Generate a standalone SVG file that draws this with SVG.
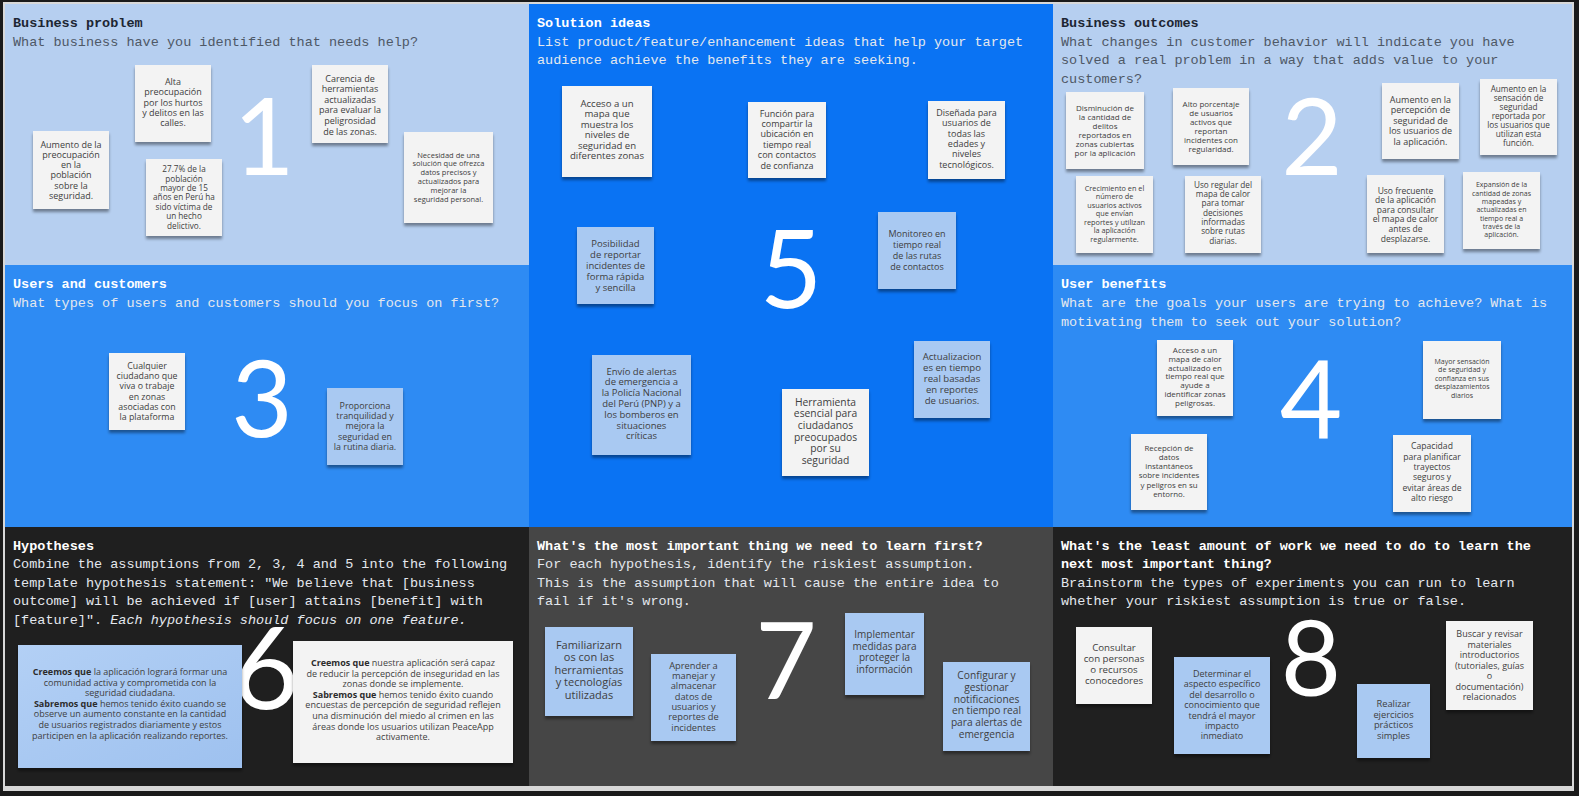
<svg xmlns="http://www.w3.org/2000/svg" width="1579" height="796" viewBox="0 0 1579 796">
<style>
.hd{font-family:"Liberation Mono","DejaVu Sans Mono",monospace;font-size:13.5px}
.hb{font-weight:bold}
.dk{fill:#1d2633}
.dg{fill:#4e5866}
.wt{fill:#ffffff}
.lg{fill:#e4e8ee}
.num{font-family:Lato,"Open Sans",sans-serif;font-weight:400;fill:#ffffff;text-anchor:middle}
.sw{fill:#f3f3f3;filter:url(#sh)}
.sb{fill:#a9c9f2;filter:url(#sh)}
.tx{font-family:"Open Sans","Noto Sans",sans-serif;fill:#3e3e3e;text-anchor:middle}
.bd{font-weight:bold;fill:#2c2c2c}
</style>
<defs>
<filter id="sh" x="-20%" y="-20%" width="140%" height="150%">
<feDropShadow dx="0" dy="3" stdDeviation="1.8" flood-color="#000" flood-opacity="0.4"/>
</filter>
<linearGradient id="gb" x1="0" y1="0" x2="1" y2="1">
<stop offset="0" stop-color="#b3d0f5"/><stop offset="1" stop-color="#9ec1ef"/>
</linearGradient>
</defs>
<rect width="1579" height="796" fill="#1a1a1a"/>
<rect x="3" y="2" width="1571" height="789" fill="#d8d8d8"/>
<!-- panels -->
<g id="panel-1"><rect x="5" y="4" width="524" height="261" fill="#b6cff0"/></g>
<g id="panel-5"><rect x="529" y="4" width="524" height="523" fill="#0a73f3"/></g>
<g id="panel-2"><rect x="1053" y="4" width="519" height="261" fill="#b6cff0"/></g>
<g id="panel-3"><rect x="5" y="265" width="524" height="262" fill="#2e8bf3"/></g>
<g id="panel-4"><rect x="1053" y="265" width="519" height="262" fill="#2e8bf3"/></g>
<g id="panel-6"><rect x="5" y="527" width="524" height="259" fill="#1f1f1f"/></g>
<g id="panel-7"><rect x="529" y="527" width="524" height="259" fill="#464646"/></g>
<g id="panel-8"><rect x="1053" y="527" width="519" height="259" fill="#202020"/></g>

<!-- big numbers -->
<g id="numbers" class="num">
<text x="264" y="175" font-size="106">1</text>
<text x="1312" y="175" font-size="106">2</text>
<text x="262" y="437" font-size="106">3</text>
<text x="1311" y="439" font-size="108">4</text>
<text x="791" y="308" font-size="108">5</text>
<text x="266" y="709" font-size="114">6</text>
<text x="786" y="699" font-size="106">7</text>
<text x="1311" y="696" font-size="104">8</text>
</g>

<!-- headers -->
<g id="hdr-1" class="hd">
<text x="13" y="26.5" class="hb dk">Business problem</text>
<text x="13" y="45.5" class="dg">What business have you identified that needs help?</text>
</g>
<g id="hdr-5" class="hd">
<text x="537" y="26.5" class="hb wt">Solution ideas</text>
<text x="537" y="45.5" class="lg">List product/feature/enhancement ideas that help your target</text>
<text x="537" y="64" class="lg">audience achieve the benefits they are seeking.</text>
</g>
<g id="hdr-2" class="hd">
<text x="1061" y="26.5" class="hb dk">Business outcomes</text>
<text x="1061" y="45.5" class="dg">What changes in customer behavior will indicate you have</text>
<text x="1061" y="64" class="dg">solved a real problem in a way that adds value to your</text>
<text x="1061" y="82.5" class="dg">customers?</text>
</g>
<g id="hdr-3" class="hd">
<text x="13" y="288" class="hb wt">Users and customers</text>
<text x="13" y="307" class="lg">What types of users and customers should you focus on first?</text>
</g>
<g id="hdr-4" class="hd">
<text x="1061" y="288" class="hb wt">User benefits</text>
<text x="1061" y="307" class="lg">What are the goals your users are trying to achieve? What is</text>
<text x="1061" y="325.5" class="lg">motivating them to seek out your solution?</text>
</g>
<g id="hdr-6" class="hd">
<text x="13" y="549.5" class="hb wt">Hypotheses</text>
<text x="13" y="568" class="lg">Combine the assumptions from 2, 3, 4 and 5 into the following</text>
<text x="13" y="586.7" class="lg">template hypothesis statement: "We believe that [business</text>
<text x="13" y="605.4" class="lg">outcome] will be achieved if [user] attains [benefit] with</text>
<text x="13" y="624" class="lg">[feature]". <tspan font-style="italic">Each hypothesis should focus on one feature.</tspan></text>
</g>
<g id="hdr-7" class="hd">
<text x="537" y="549.5" class="hb wt">What's the most important thing we need to learn first?</text>
<text x="537" y="568" class="lg">For each hypothesis, identify the riskiest assumption.</text>
<text x="537" y="586.7" class="lg">This is the assumption that will cause the entire idea to</text>
<text x="537" y="605.4" class="lg">fail if it's wrong.</text>
</g>
<g id="hdr-8" class="hd">
<text x="1061" y="549.5" class="hb wt">What's the least amount of work we need to do to learn the</text>
<text x="1061" y="568" class="hb wt">next most important thing?</text>
<text x="1061" y="586.7" class="lg">Brainstorm the types of experiments you can run to learn</text>
<text x="1061" y="605.4" class="lg">whether your riskiest assumption is true or false.</text>
</g>

<!-- panel 1 stickies -->
<g id="s-aumento"><rect class="sw" x="33" y="131" width="76" height="78"/>
<text class="tx" font-size="9" x="71" y="147.5"><tspan x="71">Aumento de la</tspan><tspan x="71" dy="10.3">preocupación</tspan><tspan x="71" dy="10.3">en la</tspan><tspan x="71" dy="10.3">población</tspan><tspan x="71" dy="10.3">sobre la</tspan><tspan x="71" dy="10.3">seguridad.</tspan></text></g>
<g id="s-alta"><rect class="sw" x="135" y="65" width="76" height="77"/>
<text class="tx" font-size="9" x="173" y="85"><tspan x="173">Alta</tspan><tspan x="173" dy="10.3">preocupación</tspan><tspan x="173" dy="10.3">por los hurtos</tspan><tspan x="173" dy="10.3">y delitos en las</tspan><tspan x="173" dy="10.3">calles.</tspan></text></g>
<g id="s-277"><rect class="sw" x="146" y="159" width="76" height="77"/>
<text class="tx" font-size="8.2" x="184" y="172.2"><tspan x="184">27.7% de la</tspan><tspan x="184" dy="9.4">población</tspan><tspan x="184" dy="9.4">mayor de 15</tspan><tspan x="184" dy="9.4">años en Perú ha</tspan><tspan x="184" dy="9.4">sido víctima de</tspan><tspan x="184" dy="9.4">un hecho</tspan><tspan x="184" dy="9.4">delictivo.</tspan></text></g>
<g id="s-carencia"><rect class="sw" x="312" y="65" width="76" height="78"/>
<text class="tx" font-size="9" x="350" y="81.5"><tspan x="350">Carencia de</tspan><tspan x="350" dy="10.6">herramientas</tspan><tspan x="350" dy="10.6">actualizadas</tspan><tspan x="350" dy="10.6">para evaluar la</tspan><tspan x="350" dy="10.6">peligrosidad</tspan><tspan x="350" dy="10.6">de las zonas.</tspan></text></g>
<g id="s-necesidad"><rect class="sw" x="404" y="132" width="89" height="91"/>
<text class="tx" font-size="7.5" x="448.5" y="157.6"><tspan x="448.5">Necesidad de una</tspan><tspan x="448.5" dy="8.8">solución que ofrezca</tspan><tspan x="448.5" dy="8.8">datos precisos y</tspan><tspan x="448.5" dy="8.8">actualizados para</tspan><tspan x="448.5" dy="8.8">mejorar la</tspan><tspan x="448.5" dy="8.8">seguridad personal.</tspan></text></g>

<!-- panel 5 stickies -->
<g id="s-acceso-mapa"><rect class="sw" x="562" y="86" width="90" height="91"/>
<text class="tx" font-size="9.6" x="607" y="106.7"><tspan x="607">Acceso a un</tspan><tspan x="607" dy="10.5">mapa que</tspan><tspan x="607" dy="10.5">muestra los</tspan><tspan x="607" dy="10.5">niveles de</tspan><tspan x="607" dy="10.5">seguridad en</tspan><tspan x="607" dy="10.5">diferentes zonas</tspan></text></g>
<g id="s-funcion"><rect class="sw" x="748" y="102" width="78" height="76"/>
<text class="tx" font-size="9" x="787" y="116.5"><tspan x="787">Función para</tspan><tspan x="787" dy="10.4">compartir la</tspan><tspan x="787" dy="10.4">ubicación en</tspan><tspan x="787" dy="10.4">tiempo real</tspan><tspan x="787" dy="10.4">con contactos</tspan><tspan x="787" dy="10.4">de confianza</tspan></text></g>
<g id="s-disenada"><rect class="sw" x="928" y="101" width="77" height="78"/>
<text class="tx" font-size="9" x="966.5" y="115.8"><tspan x="966.5">Diseñada para</tspan><tspan x="966.5" dy="10.4">usuarios de</tspan><tspan x="966.5" dy="10.4">todas las</tspan><tspan x="966.5" dy="10.4">edades y</tspan><tspan x="966.5" dy="10.4">niveles</tspan><tspan x="966.5" dy="10.4">tecnológicos.</tspan></text></g>
<g id="s-posibilidad"><rect class="sb" x="577" y="227" width="77" height="77"/>
<text class="tx" font-size="9.5" x="615.5" y="246.6"><tspan x="615.5">Posibilidad</tspan><tspan x="615.5" dy="11">de reportar</tspan><tspan x="615.5" dy="11">incidentes de</tspan><tspan x="615.5" dy="11">forma rápida</tspan><tspan x="615.5" dy="11">y sencilla</tspan></text></g>
<g id="s-monitoreo"><rect class="sb" x="878" y="212" width="78" height="77"/>
<text class="tx" font-size="9" x="917" y="236.5"><tspan x="917">Monitoreo en</tspan><tspan x="917" dy="11">tiempo real</tspan><tspan x="917" dy="11">de las rutas</tspan><tspan x="917" dy="11">de contactos</tspan></text></g>
<g id="s-envio"><rect class="sb" x="592" y="355" width="99" height="100"/>
<text class="tx" font-size="9.5" x="641.5" y="374.6"><tspan x="641.5">Envío de alertas</tspan><tspan x="641.5" dy="10.8">de emergencia a</tspan><tspan x="641.5" dy="10.8">la Policía Nacional</tspan><tspan x="641.5" dy="10.8">del Perú (PNP) y a</tspan><tspan x="641.5" dy="10.8">los bomberos en</tspan><tspan x="641.5" dy="10.8">situaciones</tspan><tspan x="641.5" dy="10.8">críticas</tspan></text></g>
<g id="s-herramienta"><rect class="sw" x="782" y="389" width="87" height="87"/>
<text class="tx" font-size="10.3" x="825.5" y="405.6"><tspan x="825.5">Herramienta</tspan><tspan x="825.5" dy="11.7">esencial para</tspan><tspan x="825.5" dy="11.7">ciudadanos</tspan><tspan x="825.5" dy="11.7">preocupados</tspan><tspan x="825.5" dy="11.7">por su</tspan><tspan x="825.5" dy="11.7">seguridad</tspan></text></g>
<g id="s-actualizaciones"><rect class="sb" x="914" y="341" width="76" height="77"/>
<text class="tx" font-size="9.6" x="952" y="359.7"><tspan x="952">Actualizacion</tspan><tspan x="952" dy="11">es en tiempo</tspan><tspan x="952" dy="11">real basadas</tspan><tspan x="952" dy="11">en reportes</tspan><tspan x="952" dy="11">de usuarios.</tspan></text></g>

<!-- panel 2 stickies -->
<g id="s-disminucion"><rect class="sw" x="1066" y="92" width="78" height="77"/>
<text class="tx" font-size="8" x="1105" y="110.5"><tspan x="1105">Disminución de</tspan><tspan x="1105" dy="9.1">la cantidad de</tspan><tspan x="1105" dy="9.1">delitos</tspan><tspan x="1105" dy="9.1">reportados en</tspan><tspan x="1105" dy="9.1">zonas cubiertas</tspan><tspan x="1105" dy="9.1">por la aplicación</tspan></text></g>
<g id="s-alto"><rect class="sw" x="1173" y="88" width="76" height="77"/>
<text class="tx" font-size="8" x="1211" y="106.8"><tspan x="1211">Alto porcentaje</tspan><tspan x="1211" dy="9">de usuarios</tspan><tspan x="1211" dy="9">activos que</tspan><tspan x="1211" dy="9">reportan</tspan><tspan x="1211" dy="9">incidentes con</tspan><tspan x="1211" dy="9">regularidad.</tspan></text></g>
<g id="s-percepcion"><rect class="sw" x="1382" y="83" width="77" height="76"/>
<text class="tx" font-size="9" x="1420.5" y="102.5"><tspan x="1420.5">Aumento en la</tspan><tspan x="1420.5" dy="10.5">percepción de</tspan><tspan x="1420.5" dy="10.5">seguridad de</tspan><tspan x="1420.5" dy="10.5">los usuarios de</tspan><tspan x="1420.5" dy="10.5">la aplicación.</tspan></text></g>
<g id="s-sensacion"><rect class="sw" x="1480" y="79" width="77" height="76"/>
<text class="tx" font-size="8.2" x="1518.5" y="92.2"><tspan x="1518.5">Aumento en la</tspan><tspan x="1518.5" dy="9">sensación de</tspan><tspan x="1518.5" dy="9">seguridad</tspan><tspan x="1518.5" dy="9">reportada por</tspan><tspan x="1518.5" dy="9">los usuarios que</tspan><tspan x="1518.5" dy="9">utilizan esta</tspan><tspan x="1518.5" dy="9">función.</tspan></text></g>
<g id="s-crecimiento"><rect class="sw" x="1076" y="176" width="77" height="77"/>
<text class="tx" font-size="7.3" x="1114.5" y="190.8"><tspan x="1114.5">Crecimiento en el</tspan><tspan x="1114.5" dy="8.5">número de</tspan><tspan x="1114.5" dy="8.5">usuarios activos</tspan><tspan x="1114.5" dy="8.5">que envían</tspan><tspan x="1114.5" dy="8.5">reportes y utilizan</tspan><tspan x="1114.5" dy="8.5">la aplicación</tspan><tspan x="1114.5" dy="8.5">regularmente.</tspan></text></g>
<g id="s-uso-regular"><rect class="sw" x="1185" y="176" width="76" height="77"/>
<text class="tx" font-size="8.2" x="1223" y="187.8"><tspan x="1223">Uso regular del</tspan><tspan x="1223" dy="9.3">mapa de calor</tspan><tspan x="1223" dy="9.3">para tomar</tspan><tspan x="1223" dy="9.3">decisiones</tspan><tspan x="1223" dy="9.3">informadas</tspan><tspan x="1223" dy="9.3">sobre rutas</tspan><tspan x="1223" dy="9.3">diarias.</tspan></text></g>
<g id="s-uso-frecuente"><rect class="sw" x="1367" y="175" width="77" height="78"/>
<text class="tx" font-size="8.5" x="1405.5" y="193.6"><tspan x="1405.5">Uso frecuente</tspan><tspan x="1405.5" dy="9.6">de la aplicación</tspan><tspan x="1405.5" dy="9.6">para consultar</tspan><tspan x="1405.5" dy="9.6">el mapa de calor</tspan><tspan x="1405.5" dy="9.6">antes de</tspan><tspan x="1405.5" dy="9.6">desplazarse.</tspan></text></g>
<g id="s-expansion"><rect class="sw" x="1463" y="172" width="77" height="77"/>
<text class="tx" font-size="7" x="1501.5" y="187.3"><tspan x="1501.5">Expansión de la</tspan><tspan x="1501.5" dy="8.3">cantidad de zonas</tspan><tspan x="1501.5" dy="8.3">mapeadas y</tspan><tspan x="1501.5" dy="8.3">actualizadas en</tspan><tspan x="1501.5" dy="8.3">tiempo real a</tspan><tspan x="1501.5" dy="8.3">través de la</tspan><tspan x="1501.5" dy="8.3">aplicación.</tspan></text></g>

<!-- panel 3 stickies -->
<g id="s-cualquier"><rect class="sw" x="109" y="353" width="76" height="77"/>
<text class="tx" font-size="8.8" x="147" y="369"><tspan x="147">Cualquier</tspan><tspan x="147" dy="10.2">ciudadano que</tspan><tspan x="147" dy="10.2">viva o trabaje</tspan><tspan x="147" dy="10.2">en zonas</tspan><tspan x="147" dy="10.2">asociadas con</tspan><tspan x="147" dy="10.2">la plataforma</tspan></text></g>
<g id="s-proporciona"><rect class="sb" x="327" y="388" width="76" height="77"/>
<text class="tx" font-size="8.9" x="365" y="409"><tspan x="365">Proporciona</tspan><tspan x="365" dy="10.2">tranquilidad y</tspan><tspan x="365" dy="10.2">mejora la</tspan><tspan x="365" dy="10.2">seguridad en</tspan><tspan x="365" dy="10.2">la rutina diaria.</tspan></text></g>

<!-- panel 4 stickies -->
<g id="s-acceso-calor"><rect class="sw" x="1157" y="340" width="76" height="76"/>
<text class="tx" font-size="8" x="1195" y="353"><tspan x="1195">Acceso a un</tspan><tspan x="1195" dy="8.8">mapa de calor</tspan><tspan x="1195" dy="8.8">actualizado en</tspan><tspan x="1195" dy="8.8">tiempo real que</tspan><tspan x="1195" dy="8.8">ayude a</tspan><tspan x="1195" dy="8.8">identificar zonas</tspan><tspan x="1195" dy="8.8">peligrosas.</tspan></text></g>
<g id="s-mayor"><rect class="sw" x="1423" y="341" width="78" height="78"/>
<text class="tx" font-size="7" x="1462" y="363.7"><tspan x="1462">Mayor sensación</tspan><tspan x="1462" dy="8.5">de seguridad y</tspan><tspan x="1462" dy="8.5">confianza en sus</tspan><tspan x="1462" dy="8.5">desplazamientos</tspan><tspan x="1462" dy="8.5">diarios</tspan></text></g>
<g id="s-recepcion"><rect class="sw" x="1131" y="434" width="76" height="76"/>
<text class="tx" font-size="7.9" x="1169" y="450.7"><tspan x="1169">Recepción de</tspan><tspan x="1169" dy="9.2">datos</tspan><tspan x="1169" dy="9.2">instantáneos</tspan><tspan x="1169" dy="9.2">sobre incidentes</tspan><tspan x="1169" dy="9.2">y peligros en su</tspan><tspan x="1169" dy="9.2">entorno.</tspan></text></g>
<g id="s-capacidad"><rect class="sw" x="1393" y="435" width="78" height="77"/>
<text class="tx" font-size="8.6" x="1432" y="449.3"><tspan x="1432">Capacidad</tspan><tspan x="1432" dy="10.3">para planificar</tspan><tspan x="1432" dy="10.3">trayectos</tspan><tspan x="1432" dy="10.3">seguros y</tspan><tspan x="1432" dy="10.3">evitar áreas de</tspan><tspan x="1432" dy="10.3">alto riesgo</tspan></text></g>

<!-- panel 6 hypotheses -->
<g id="h-1"><rect x="18" y="645" width="224" height="123" fill="url(#gb)" filter="url(#sh)"/>
<text class="tx" font-size="9" x="130" y="675"><tspan x="130"><tspan class="bd">Creemos que</tspan> la aplicación logrará formar una</tspan><tspan x="130" dy="10.6">comunidad activa y comprometida con la</tspan><tspan x="130" dy="10.6">seguridad ciudadana.</tspan><tspan x="130" dy="10.6"><tspan class="bd">Sabremos que</tspan> hemos tenido éxito cuando se</tspan><tspan x="130" dy="10.6">observe un aumento constante en la cantidad</tspan><tspan x="130" dy="10.6">de usuarios registrados diariamente y estos</tspan><tspan x="130" dy="10.6">participen en la aplicación realizando reportes.</tspan></text></g>
<g id="h-2"><rect class="sw" x="293" y="641" width="220" height="122"/>
<text class="tx" font-size="9" x="403" y="666"><tspan x="403"><tspan class="bd">Creemos que</tspan> nuestra aplicación será capaz</tspan><tspan x="403" dy="10.6">de reducir la percepción de inseguridad en las</tspan><tspan x="403" dy="10.6">zonas donde se implemente.</tspan><tspan x="403" dy="10.6"><tspan class="bd">Sabremos que</tspan> hemos tenido éxito cuando</tspan><tspan x="403" dy="10.6">encuestas de percepción de seguridad reflejen</tspan><tspan x="403" dy="10.6">una disminución del miedo al crimen en las</tspan><tspan x="403" dy="10.6">áreas donde los usuarios utilizan PeaceApp</tspan><tspan x="403" dy="10.6">activamente.</tspan></text></g>

<!-- panel 7 stickies -->
<g id="s-familiarizarnos"><rect class="sb" x="545" y="627" width="88" height="89"/>
<text class="tx" font-size="11" x="589" y="648.5"><tspan x="589">Familiarizarn</tspan><tspan x="589" dy="12.5">os con las</tspan><tspan x="589" dy="12.5">herramientas</tspan><tspan x="589" dy="12.5">y tecnologías</tspan><tspan x="589" dy="12.5">utilizadas</tspan></text></g>
<g id="s-aprender"><rect class="sb" x="651" y="654" width="85" height="87"/>
<text class="tx" font-size="9.3" x="693.5" y="668.8"><tspan x="693.5">Aprender a</tspan><tspan x="693.5" dy="10.3">manejar y</tspan><tspan x="693.5" dy="10.3">almacenar</tspan><tspan x="693.5" dy="10.3">datos de</tspan><tspan x="693.5" dy="10.3">usuarios y</tspan><tspan x="693.5" dy="10.3">reportes de</tspan><tspan x="693.5" dy="10.3">incidentes</tspan></text></g>
<g id="s-implementar"><rect class="sb" x="845" y="613" width="79" height="82"/>
<text class="tx" font-size="10" x="884.5" y="638"><tspan x="884.5">Implementar</tspan><tspan x="884.5" dy="11.5">medidas para</tspan><tspan x="884.5" dy="11.5">proteger la</tspan><tspan x="884.5" dy="11.5">información</tspan></text></g>
<g id="s-configurar"><rect class="sb" x="943" y="662" width="87" height="89"/>
<text class="tx" font-size="10.2" x="986.5" y="679.2"><tspan x="986.5">Configurar y</tspan><tspan x="986.5" dy="11.7">gestionar</tspan><tspan x="986.5" dy="11.7">notificaciones</tspan><tspan x="986.5" dy="11.7">en tiempo real</tspan><tspan x="986.5" dy="11.7">para alertas de</tspan><tspan x="986.5" dy="11.7">emergencia</tspan></text></g>

<!-- panel 8 stickies -->
<g id="s-consultar"><rect class="sw" x="1076" y="627" width="76" height="77"/>
<text class="tx" font-size="9.7" x="1114" y="651.3"><tspan x="1114">Consultar</tspan><tspan x="1114" dy="11">con personas</tspan><tspan x="1114" dy="11">o recursos</tspan><tspan x="1114" dy="11">conocedores</tspan></text></g>
<g id="s-determinar"><rect class="sb" x="1174" y="657" width="96" height="97"/>
<text class="tx" font-size="9" x="1222" y="677"><tspan x="1222">Determinar el</tspan><tspan x="1222" dy="10.4">aspecto específico</tspan><tspan x="1222" dy="10.4">del desarrollo o</tspan><tspan x="1222" dy="10.4">conocimiento que</tspan><tspan x="1222" dy="10.4">tendrá el mayor</tspan><tspan x="1222" dy="10.4">impacto</tspan><tspan x="1222" dy="10.4">inmediato</tspan></text></g>
<g id="s-realizar"><rect class="sb" x="1357" y="684" width="73" height="74"/>
<text class="tx" font-size="9.3" x="1393.5" y="707.2"><tspan x="1393.5">Realizar</tspan><tspan x="1393.5" dy="10.5">ejercicios</tspan><tspan x="1393.5" dy="10.5">prácticos</tspan><tspan x="1393.5" dy="10.5">simples</tspan></text></g>
<g id="s-buscar"><rect class="sw" x="1446" y="621" width="87" height="89"/>
<text class="tx" font-size="9" x="1489.5" y="637"><tspan x="1489.5">Buscar y revisar</tspan><tspan x="1489.5" dy="10.5">materiales</tspan><tspan x="1489.5" dy="10.5">introductorios</tspan><tspan x="1489.5" dy="10.5">(tutoriales, guías</tspan><tspan x="1489.5" dy="10.5">o</tspan><tspan x="1489.5" dy="10.5">documentación)</tspan><tspan x="1489.5" dy="10.5">relacionados</tspan></text></g>
<g id="connectors"></g>
</svg>
